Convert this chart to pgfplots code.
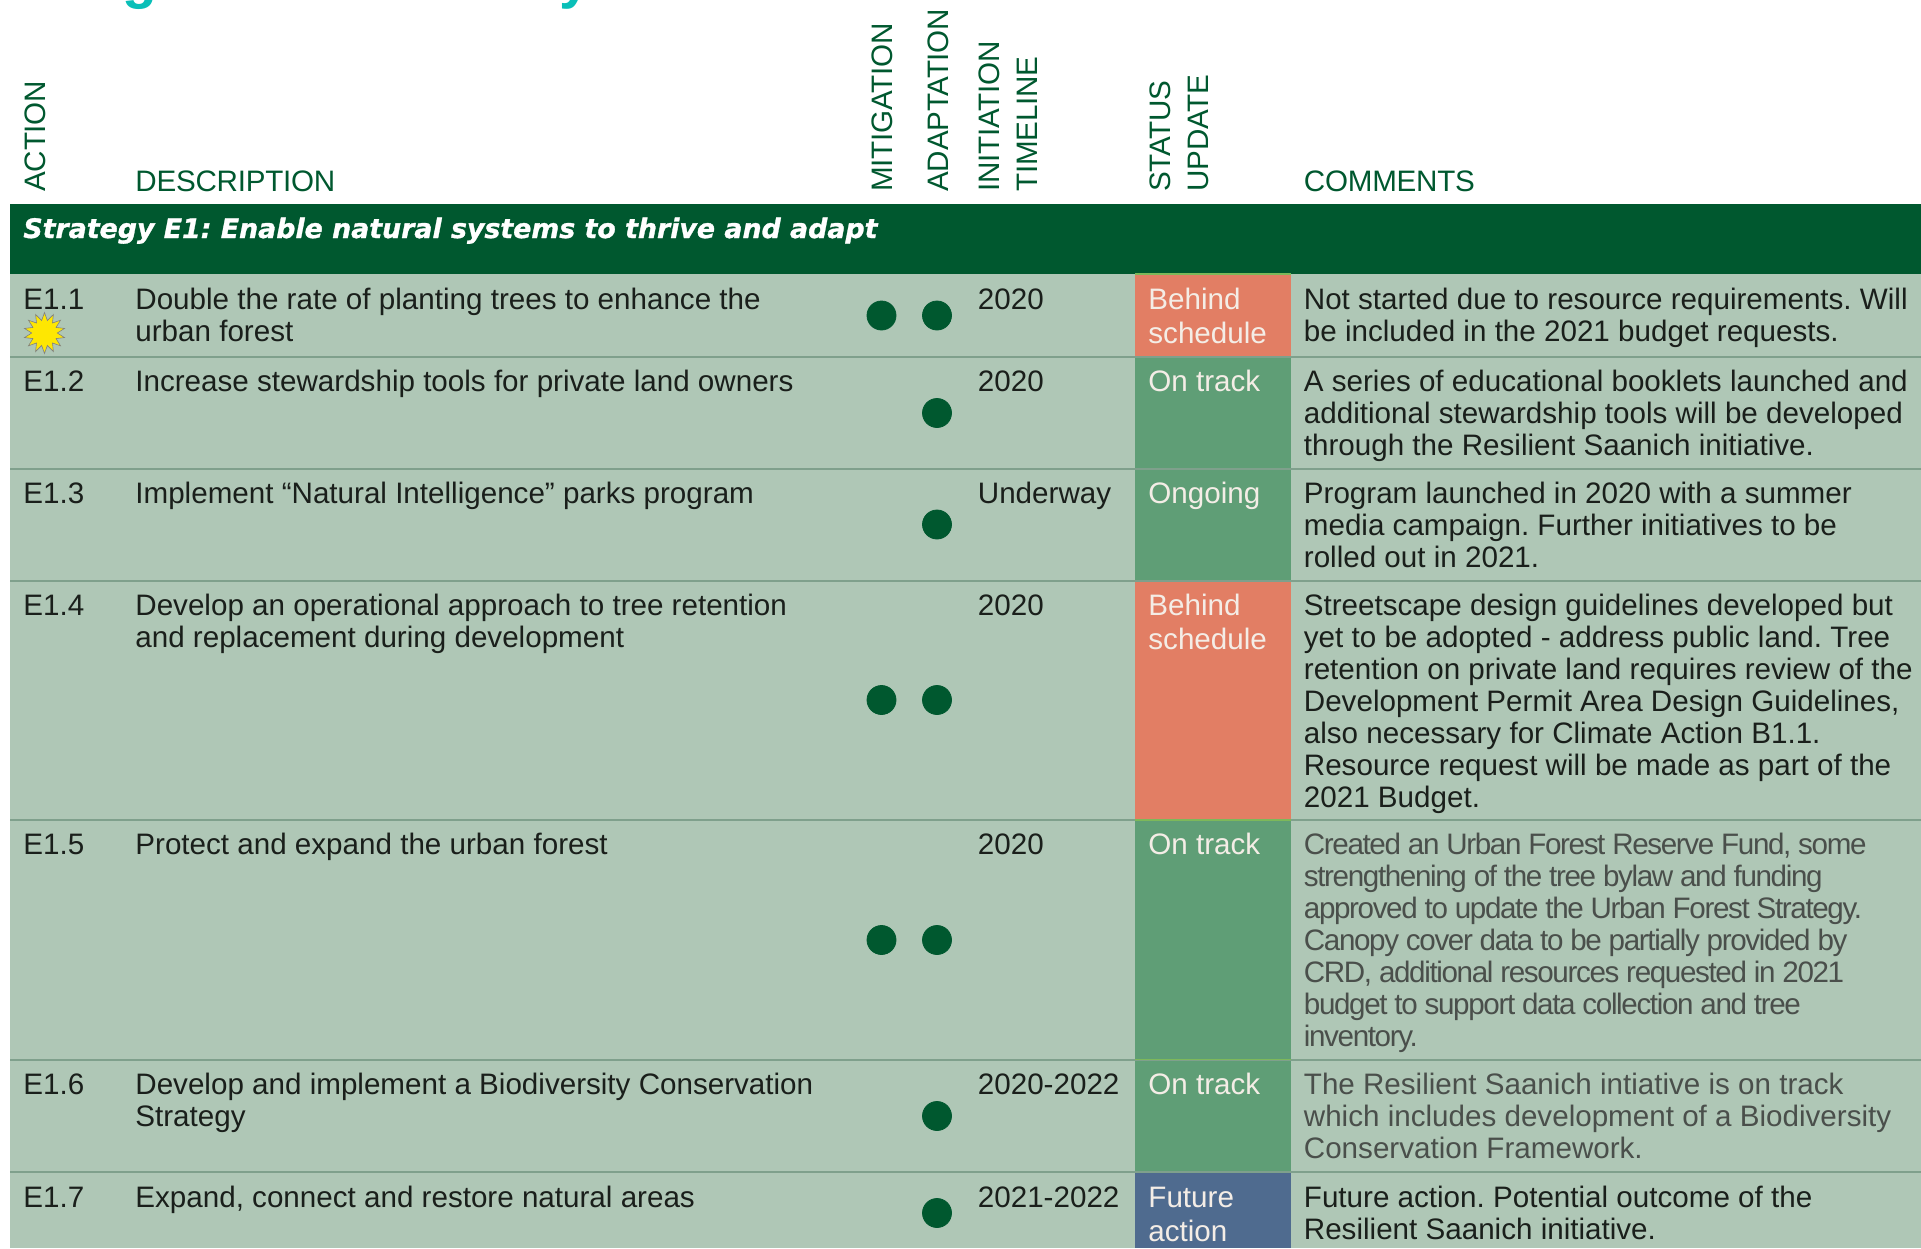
\documentclass[border=0pt]{standalone}
\usepackage{pgfplots}
\pgfplotsset{compat=1.18}
\usepackage{fontspec}
\setmainfont{Liberation Sans}
\newfontfamily\stratfont{DejaVu Sans}[FakeBold=1.2]
\usetikzlibrary{shapes.geometric}
\frenchspacing
\definecolor{sage}{HTML}{AFC7B6}
\definecolor{dkgreen}{HTML}{00582F}
\definecolor{salmon}{HTML}{E27E64}
\definecolor{midgreen}{HTML}{5F9E76}
\definecolor{slateb}{HTML}{4F6B8F}
\definecolor{teal}{HTML}{0ABFB8}
\definecolor{rulec}{HTML}{7FA08C}
\definecolor{limeline}{HTML}{7DB85A}
\definecolor{ptxt}{HTML}{F4EDE6}
\definecolor{gtxt}{HTML}{4A4F4B}
\definecolor{btxt}{HTML}{1A1F1B}
\newcommand\bodyf{\fontsize{14.8}{16}\selectfont\frenchspacing}
\newcommand\TT[4][btxt]{\node[anchor=base west,inner sep=0pt,text=#1,font=\bodyf] at (axis cs:#2,#3) {#4};}
\newcommand\GG[3]{\node[anchor=base west,inner sep=0pt,text=gtxt,font=\bodyf\addfontfeature{LetterSpace=-4.6}] at (axis cs:#1,#2) {#3};}
\newcommand\HH[3]{\node[anchor=base west,inner sep=0pt,text=dkgreen,font=\bodyf\addfontfeature{LetterSpace=-0.8}] at (axis cs:#1,#2) {#3};}
\newcommand\VV[3]{\node[anchor=base west,inner sep=0pt,text=dkgreen,font=\bodyf\addfontfeature{LetterSpace=-0.8},rotate=90] at (axis cs:#1,#2) {#3};}
\pgfdeclareplotmark{burst}{\node[star,star points=14,star point ratio=1.6,fill=yellow!90!orange,draw=gray,line width=0.3pt,minimum size=20.5pt,inner sep=0pt]{};}
\begin{document}
\begin{tikzpicture}
\path[use as bounding box] (0,0) rectangle (960.5pt,624pt);
\clip (0,0) rectangle (960.5pt,624pt);
\begin{axis}[at={(0,0)},anchor=south west,scale only axis,width=960.5pt,height=624pt,
 xmin=0,xmax=1921,ymin=0,ymax=1248,y dir=reverse,hide axis,clip=true]
% bands
\addplot[fill=sage,draw=none] coordinates {(10,274)(1921,274)(1921,1248)(10,1248)};
\addplot[fill=dkgreen,draw=none] coordinates {(10,203.5)(1921,203.5)(1921,274)(10,274)};
% status cells
\addplot[fill=salmon,draw=none] coordinates {(1135,274)(1291,274)(1291,357)(1135,357)};
\addplot[fill=midgreen,draw=none] coordinates {(1135,357)(1291,357)(1291,469)(1135,469)};
\addplot[fill=midgreen,draw=none] coordinates {(1135,469)(1291,469)(1291,581)(1135,581)};
\addplot[fill=salmon,draw=none] coordinates {(1135,581)(1291,581)(1291,820)(1135,820)};
\addplot[fill=midgreen,draw=none] coordinates {(1135,820)(1291,820)(1291,1059.5)(1135,1059.5)};
\addplot[fill=midgreen,draw=none] coordinates {(1135,1059.5)(1291,1059.5)(1291,1171.5)(1135,1171.5)};
\addplot[fill=slateb,draw=none] coordinates {(1135,1171.5)(1291,1171.5)(1291,1248)(1135,1248)};
% rules
\addplot[rulec,line width=1pt] coordinates {(10,357)(1921,357)};
\addplot[rulec,line width=1pt] coordinates {(10,469)(1921,469)};
\addplot[rulec,line width=1pt] coordinates {(10,581)(1921,581)};
\addplot[rulec,line width=1pt] coordinates {(10,820)(1921,820)};
\addplot[rulec,line width=1pt] coordinates {(10,1059.5)(1921,1059.5)};
\addplot[rulec,line width=1pt] coordinates {(10,1171.5)(1921,1171.5)};
\addplot[limeline,line width=0.8pt] coordinates {(1135,274)(1291,274)};
\addplot[limeline,line width=0.8pt] coordinates {(1135,820)(1291,820)};
\addplot[limeline,line width=0.8pt] coordinates {(1135,1059.5)(1291,1059.5)};
% dots
\addplot[only marks,mark=*,mark size=7.25pt,dkgreen] coordinates {(881.5,315.5)(881.5,700)(881.5,940)};
\addplot[only marks,mark=*,mark size=7.25pt,dkgreen] coordinates {(937,315.5)(937,413)(937,524.5)(937,700)(937,940)(937,1116)(937,1213)};
\addplot[only marks,mark=burst] coordinates {(44.5,333)};
% title (cropped by the page edge)
\node[anchor=base west,inner sep=0pt,text=teal,font=\fontsize{28.5}{30}\selectfont\bfseries] at (axis cs:49,-2.5) {Regenerative Ecosystems};
% headers
\VV{45}{192}{ACTION}
\HH{135}{191.5}{DESCRIPTION}
\VV{892.5}{192}{MITIGATION}
\VV{948}{192}{ADAPTATION}
\VV{999}{192}{INITIATION}
\VV{1037}{192}{TIMELINE}
\VV{1170}{192}{STATUS}
\VV{1208.5}{192}{UPDATE}
\HH{1303.5}{191.5}{COMMENTS}
\node[anchor=base west,inner sep=0pt,text=white,font=\stratfont\fontsize{13.4}{15}\selectfont\bfseries\itshape] at (axis cs:23,238) {Strategy E1: Enable natural systems to thrive and adapt};
% E1.1
\TT{23}{309}{E1.1}
\TT{135}{309}{Double the rate of planting trees to enhance the}
\TT{135}{341}{urban forest}
\TT{977.5}{309}{2020}
\TT[ptxt]{1148}{309}{Behind}
\TT[ptxt]{1148}{343}{schedule}
\TT{1303.5}{309}{Not started due to resource requirements. Will}
\TT{1303.5}{341}{be included in the 2021 budget requests.}
% E1.2
\TT{23}{391}{E1.2}
\TT{135}{391}{Increase stewardship tools for private land owners}
\TT{977.5}{391}{2020}
\TT[ptxt]{1148}{391}{On track}
\TT{1303.5}{391}{A series of educational booklets launched and}
\TT{1303.5}{423}{additional stewardship tools will be developed}
\TT{1303.5}{455}{through the Resilient Saanich initiative.}
% E1.3
\TT{23}{503}{E1.3}
\TT{135}{503}{Implement “Natural Intelligence” parks program}
\TT{977.5}{503}{Underway}
\TT[ptxt]{1148}{503}{Ongoing}
\TT{1303.5}{503}{Program launched in 2020 with a summer}
\TT{1303.5}{535.5}{media campaign. Further initiatives to be}
\TT{1303.5}{567.5}{rolled out in 2021.}
% E1.4
\TT{23}{615}{E1.4}
\TT{135}{615}{Develop an operational approach to tree retention}
\TT{135}{647}{and replacement during development}
\TT{977.5}{615}{2020}
\TT[ptxt]{1148}{615}{Behind}
\TT[ptxt]{1148}{649.5}{schedule}
\TT{1303.5}{615}{Streetscape design guidelines developed but}
\TT{1303.5}{647}{yet to be adopted - address public land. Tree}
\TT{1303.5}{679}{retention on private land requires review of the}
\TT{1303.5}{711}{Development Permit Area Design Guidelines,}
\TT{1303.5}{743}{also necessary for Climate Action B1.1.}
\TT{1303.5}{775.5}{Resource request will be made as part of the}
\TT{1303.5}{807.5}{2021 Budget.}
% E1.5
\TT{23}{854.5}{E1.5}
\TT{135}{854.5}{Protect and expand the urban forest}
\TT{977.5}{854.5}{2020}
\TT[ptxt]{1148}{854.5}{On track}
\GG{1303.5}{854.5}{Created an Urban Forest Reserve Fund, some}
\GG{1303.5}{886.5}{strengthening of the tree bylaw and funding}
\GG{1303.5}{918.5}{approved to update the Urban Forest Strategy.}
\GG{1303.5}{950.5}{Canopy cover data to be partially provided by}
\GG{1303.5}{982.5}{CRD, additional resources requested in 2021}
\GG{1303.5}{1014.5}{budget to support data collection and tree}
\GG{1303.5}{1046.5}{inventory.}
% E1.6
\TT{23}{1094.5}{E1.6}
\TT{135}{1094.5}{Develop and implement a Biodiversity Conservation}
\TT{135}{1126.5}{Strategy}
\TT{977.5}{1094.5}{2020-2022}
\TT[ptxt]{1148}{1094.5}{On track}
\TT[gtxt]{1303.5}{1094.5}{The Resilient Saanich intiative is on track}
\TT[gtxt]{1303.5}{1126.5}{which includes development of a Biodiversity}
\TT[gtxt]{1303.5}{1158.5}{Conservation Framework.}
% E1.7
\TT{23}{1207}{E1.7}
\TT{135}{1207}{Expand, connect and restore natural areas}
\TT{977.5}{1207}{2021-2022}
\TT[ptxt]{1148}{1207}{Future}
\TT[ptxt]{1148}{1241}{action}
\TT{1303.5}{1207}{Future action. Potential outcome of the}
\TT{1303.5}{1239}{Resilient Saanich initiative.}
\end{axis}
\end{tikzpicture}
\end{document}
